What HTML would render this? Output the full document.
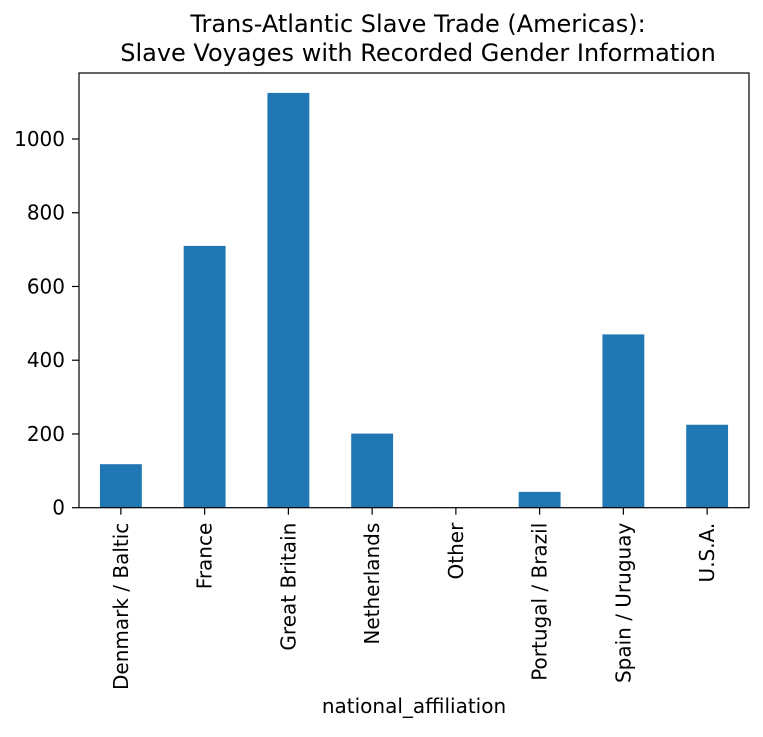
<!DOCTYPE html>
<html><head><meta charset="utf-8"><style>
body{margin:0;background:#fff;}
svg text{font-family:"DejaVu Sans","Liberation Sans",sans-serif;fill:#000;}
</style></head><body>
<svg id="chart" width="763" height="732">
<text x="418" y="32" font-size="24" text-anchor="middle">Trans-Atlantic Slave Trade (Americas):</text>
<text x="418" y="61" font-size="24" text-anchor="middle">Slave Voyages with Recorded Gender Information</text>
<g id="bars"></g><g id="axes"></g>
<text x="414" y="713" font-size="20" text-anchor="middle">national_affiliation</text>
</svg>
<script>
const categories=["Denmark / Baltic","France","Great Britain","Netherlands","Other","Portugal / Brazil","Spain / Uruguay","U.S.A."];
const values=[118,710,1125,201,1,43,470,225];
const yTicks=[0,200,400,600,800,1000];
const L=79,R=749,T=73,B=507.7,ppu=0.3687;
const NS="http://www.w3.org/2000/svg";
function y(v){return B-v*ppu;}
function xc(i){return L+(i+0.5)*(R-L)/categories.length;}
const bw=0.5*(R-L)/categories.length;
const bars=document.getElementById('bars'),axes=document.getElementById('axes');
function mk(tag,attrs,parent){const e=document.createElementNS(NS,tag);for(const k in attrs)e.setAttribute(k,attrs[k]);parent.appendChild(e);return e;}
values.forEach((v,i)=>{
 const r=mk('rect',{x:xc(i)-bw/2,y:y(v),width:bw,height:B-y(v),fill:'#1f77b4'},bars);
 
 
 mk('line',{x1:xc(i),x2:xc(i),y1:B,y2:B+7,stroke:'#000','stroke-width':1.2},axes);
 const t=mk('text',{transform:`translate(${xc(i)+7},${B+15}) rotate(-90)`,'font-size':20,'text-anchor':'end'},axes);
 t.textContent=categories[i];
 
 
});
yTicks.forEach(v=>{
 mk('line',{x1:L-7,x2:L,y1:y(v),y2:y(v),stroke:'#000','stroke-width':1.2},axes);
 const t=mk('text',{x:L-14,y:y(v)+7,'font-size':20,'text-anchor':'end'},axes);
 t.textContent=v;
 
 
});
const f=mk('rect',{x:L,y:T,width:R-L,height:B-T,fill:'none',stroke:'#000','stroke-width':1.2},axes);


</script>
</body></html>
